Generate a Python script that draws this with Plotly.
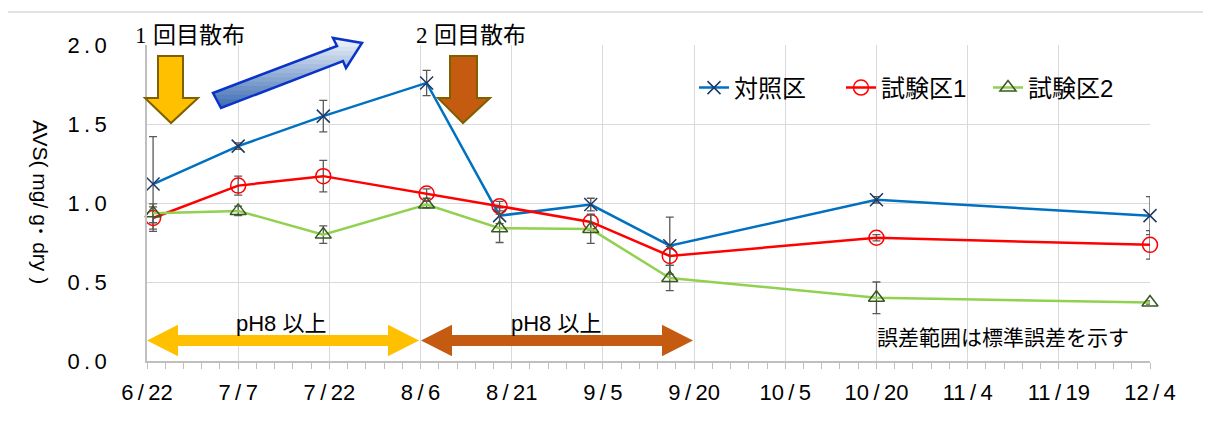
import plotly.graph_objects as go

# --- data -------------------------------------------------------------
dates = ["2020-06-23", "2020-07-07", "2020-07-21", "2020-08-07", "2020-08-19",
         "2020-09-03", "2020-09-16", "2020-10-20", "2020-12-04"]
control = [1.12, 1.36, 1.55, 1.76, 0.92, 0.99, 0.73, 1.02, 0.92]
control_err = [0.30, 0.02, 0.10, 0.08, 0.05, 0.04, 0.18, 0.02, 0.12]
test1 = [0.905, 1.11, 1.17, 1.06, 0.98, 0.88, 0.665, 0.78, 0.735]
test1_err = [0.07, 0.06, 0.10, 0.03, 0.03, 0.05, 0.06, 0.02, 0.09]
test2 = [0.935, 0.95, 0.80, 0.99, 0.84, 0.835, 0.525, 0.40, 0.37]
test2_err = [0.06, 0.03, 0.055, 0.02, 0.09, 0.09, 0.08, 0.10, 0.01]

tick_dates = ["2020-06-22", "2020-07-07", "2020-07-22", "2020-08-06", "2020-08-21",
              "2020-09-05", "2020-09-20", "2020-10-05", "2020-10-20", "2020-11-04",
              "2020-11-19", "2020-12-04"]
tick_labels = ["6/22", "7/7", "7/22", "8/6", "8/21", "9/5", "9/20", "10/5",
               "10/20", "11/4", "11/19", "12/4"]
y_ticks = [0.0, 0.5, 1.0, 1.5, 2.0]

FONT = "Liberation Sans, Noto Sans CJK JP, sans-serif"
W, H = 1211, 426
OFF = 8  # page body margin
L, R, T, B = 147, 1150, 45, 361  # plot area in reference pixels


def px(x):
    return (x - L) / (R - L)


def py(y):
    return (B - y) / (B - T)


def path(pts):
    return "M " + " L ".join(f"{px(x):.5f},{py(y):.5f}" for x, y in pts) + " Z"


def clip_band(poly, y0, y1):
    # clip polygon (pixel coords) to y0 <= y <= y1
    def half(pts, keep, yc):
        out = []
        for i in range(len(pts)):
            a, b = pts[i], pts[(i + 1) % len(pts)]
            ia, ib = keep(a[1]), keep(b[1])
            if ia:
                out.append(a)
            if ia != ib:
                t = (yc - a[1]) / (b[1] - a[1])
                out.append((a[0] + t * (b[0] - a[0]), yc))
        return out
    p = half(poly, lambda y: y >= y0, y0)
    if p:
        p = half(p, lambda y: y <= y1, y1)
    return p


def mix(c1, c2, t):
    a = [int(c1[i:i + 2], 16) for i in (1, 3, 5)]
    b = [int(c2[i:i + 2], 16) for i in (1, 3, 5)]
    return "#" + "".join(f"{round(a[k] + (b[k] - a[k]) * t):02x}" for k in range(3))


fig = go.Figure()

series = [
    ("対照区", control, control_err, "#0070C0", "x-thin", "#1F3864", 13),
    ("試験区1", test1, test1_err, "#FF0000", "circle-open", "#FF0000", 15),
    ("試験区2", test2, test2_err, "#92D050", "triangle-up-open", "#385723", 14),
]
for name, vals, err, lc, sym, mc, ms in series:
    fig.add_trace(go.Scatter(
        x=dates, y=vals, name=name, mode="lines+markers",
        line=dict(color=lc, width=2.5),
        marker=dict(symbol=sym, size=ms, color=mc, line=dict(color=mc, width=1.5)),
        error_y=dict(type="data", array=err, color="#595959", thickness=1.3, width=4),
        cliponaxis=False,
    ))

shapes = []
# outer chart border
shapes.append(dict(type="rect", xref="paper", yref="paper",
                   x0=px(7), x1=px(1225), y0=py(440), y1=py(12),
                   line=dict(color="#D9D9D9", width=1.5), layer="below"))

# spraying arrows (down)
yellow_down = [(158, 56), (183, 56), (183, 98), (198, 98), (171, 123), (145, 98), (158, 98)]
brown_down = [(450, 56), (477, 56), (477, 98), (490, 98), (463, 123), (438, 98), (450, 98)]
shapes.append(dict(type="path", xref="paper", yref="paper", path=path(yellow_down),
                   fillcolor="#FFC000", line=dict(color="#7F6000", width=2)))
shapes.append(dict(type="path", xref="paper", yref="paper", path=path(brown_down),
                   fillcolor="#C55A11", line=dict(color="#7F6000", width=2)))

# blue diagonal block arrow with vertical gradient
blue_arrow = [(213, 93), (337, 46), (333, 38), (362, 43), (346, 68), (343, 61), (221, 108)]
top_y, bot_y = 38, 108
n = 16
for i in range(n):
    y0 = top_y + (bot_y - top_y) * i / n
    y1 = top_y + (bot_y - top_y) * (i + 1) / n + 0.8
    piece = clip_band(blue_arrow, y0, y1)
    if len(piece) >= 3:
        shapes.append(dict(type="path", xref="paper", yref="paper", path=path(piece),
                           fillcolor=mix("#F4F8FD", "#3A6AB2", (i + 0.5) / n),
                           line=dict(width=0)))
shapes.append(dict(type="path", xref="paper", yref="paper", path=path(blue_arrow),
                   line=dict(color="#0A33C8", width=2.5)))


# pH ranges (double arrows)
def double_arrow(x0, x1, yc=340.5, head=31, hh=15.7, sh=5.5):
    return [(x0, yc), (x0 + head, yc - hh), (x0 + head, yc - sh), (x1 - head, yc - sh),
            (x1 - head, yc - hh), (x1, yc), (x1 - head, yc + hh), (x1 - head, yc + sh),
            (x0 + head, yc + sh), (x0 + head, yc + hh)]


shapes.append(dict(type="path", xref="paper", yref="paper", path=path(double_arrow(147, 419)),
                   fillcolor="#FFC000", line=dict(width=0)))
shapes.append(dict(type="path", xref="paper", yref="paper", path=path(double_arrow(421, 693)),
                   fillcolor="#C55A11", line=dict(width=0)))

annotations = [
    dict(text='<span style="font-family:Liberation Serif">1</span> 回目散布',
         x=px(190), y=py(35), font=dict(size=23)),
    dict(text='<span style="font-family:Liberation Serif">2</span> 回目散布',
         x=px(471), y=py(35), font=dict(size=23)),
    dict(text="pH8 以上", x=px(281), y=py(323), font=dict(size=22)),
    dict(text="pH8 以上", x=px(556), y=py(323), font=dict(size=22)),
    dict(text="誤差範囲は標準誤差を示す", x=px(1003), y=py(337), font=dict(size=21)),
    dict(text="AVS( mg/ g･ dry )", x=px(41), y=py(202), textangle=90, font=dict(size=21)),
]
for a in annotations:
    a.update(xref="paper", yref="paper", showarrow=False,
             xanchor="center", yanchor="middle")
    a["font"].update(family=FONT, color="#000000")

fig.update_layout(
    width=W, height=H,
    margin=dict(l=L - OFF, r=W - (R - OFF), t=T - OFF, b=H - (B - OFF), pad=0),
    plot_bgcolor="white", paper_bgcolor="white",
    font=dict(family=FONT, color="#000000"),
    shapes=shapes, annotations=annotations,
    legend=dict(orientation="h", x=px(694), y=py(88), xanchor="left", yanchor="middle",
                font=dict(size=24), bgcolor="rgba(0,0,0,0)", itemwidth=30,
                entrywidth=102),
    xaxis=dict(
        type="date", range=["2020-06-22", "2020-12-04"],
        tickvals=tick_dates, ticktext=[t.replace("/", "\u2009/\u2009") for t in tick_labels],
        showgrid=True, gridcolor="#D9D9D9", gridwidth=1,
        showline=True, linecolor="#BFBFBF", linewidth=1.5,
        ticks="outside", ticklen=6, tickcolor="#BFBFBF",
        minor=dict(dtick=3 * 86400000, tick0="2020-06-22", ticks="outside",
                   ticklen=6, tickcolor="#BFBFBF", showgrid=False),
        tickfont=dict(size=22), ticklabelstandoff=5, zeroline=False,
    ),
    yaxis=dict(
        range=[0, 2], tickvals=y_ticks,
        ticktext=[f"{v:.1f}".replace(".", "\u2009.\u2009") for v in y_ticks],
        showgrid=True, gridcolor="#D9D9D9", gridwidth=1,
        showline=True, linecolor="#BFBFBF", linewidth=1.5,
        ticks="", tickfont=dict(size=22), ticklabelstandoff=34, zeroline=False,
    ),
)

fig.write_html("out.html")
